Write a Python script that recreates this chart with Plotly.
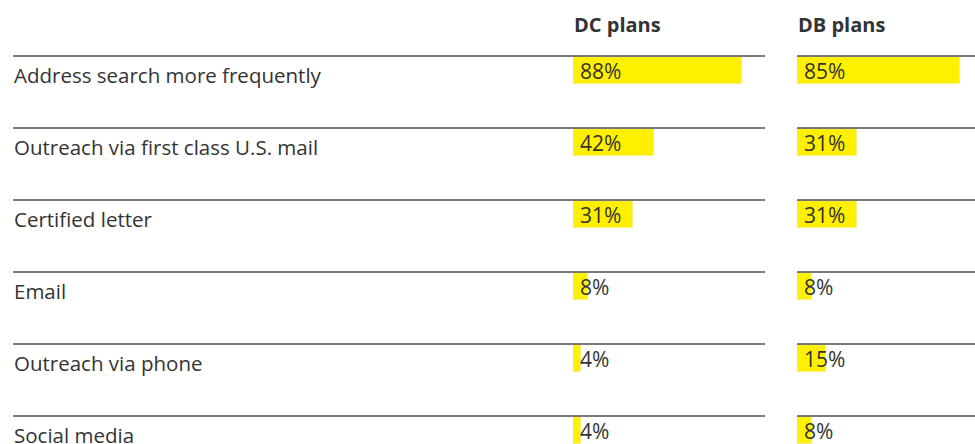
import plotly.graph_objects as go

categories = ["Address search more frequently", "Outreach via first class U.S. mail",
              "Certified letter", "Email", "Outreach via phone", "Social media"]
dc_values = [88, 42, 31, 8, 4, 4]
db_values = [85, 31, 31, 8, 15, 8]
series_names = ["DC plans", "DB plans"]

W, H = 975, 444
FONT = "Open Sans"
TXT = "#333333"
YEL = "#FFF000"
LINE = "#4d4d4d"

rows = list(range(len(categories)))
row_px = 72.0
first_center_px = 70.5
y_top = (0 - first_center_px) / row_px
y_bot = (H - first_center_px) / row_px
line_off = 14.5 / row_px
label_off = 4.5 / row_px

fig = go.Figure()
fig.add_trace(go.Bar(x=dc_values, y=rows, orientation="h", marker_color=YEL,
                     width=27 / row_px, xaxis="x", yaxis="y", hoverinfo="skip",
                     showlegend=False))
fig.add_trace(go.Bar(x=db_values, y=rows, orientation="h", marker_color=YEL,
                     width=27 / row_px, xaxis="x2", yaxis="y", hoverinfo="skip",
                     showlegend=False))

dc_left, dc_right = 573 / W, 765 / W
db_left = 797 / W
db_span_pct = (W - 797) / 1.92

annotations = []
for i, (c, a, b) in enumerate(zip(categories, dc_values, db_values)):
    annotations.append(dict(x=11.5 / W, xref="paper", y=i + label_off, yref="y",
                            text=c, showarrow=False, xanchor="left", yanchor="middle",
                            font=dict(family=FONT, size=20.5, color=TXT)))
    annotations.append(dict(x=0, xref="x", y=i, yref="y", text=f"{a}%", showarrow=False,
                            xanchor="left", yanchor="middle", xshift=5,
                            font=dict(family=FONT, size=21, color=TXT)))
    annotations.append(dict(x=0, xref="x2", y=i, yref="y", text=f"{b}%", showarrow=False,
                            xanchor="left", yanchor="middle", xshift=5,
                            font=dict(family=FONT, size=21, color=TXT)))

annotations.append(dict(x=dc_left - 1 / W, xref="paper", y=1 - 25 / H, yref="paper",
                        text=f"<b>{series_names[0]}</b>", showarrow=False,
                        xanchor="left", yanchor="middle",
                        font=dict(family=FONT, size=20, color=TXT)))
annotations.append(dict(x=db_left - 1 / W, xref="paper", y=1 - 25 / H, yref="paper",
                        text=f"<b>{series_names[1]}</b>", showarrow=False,
                        xanchor="left", yanchor="middle",
                        font=dict(family=FONT, size=20, color=TXT)))

shapes = []
for i in rows:
    shapes.append(dict(type="line", xref="paper", yref="y", x0=13 / W, x1=dc_right,
                       y0=i - line_off, y1=i - line_off, line=dict(color=LINE, width=1.3)))
    shapes.append(dict(type="line", xref="paper", yref="y", x0=db_left, x1=1,
                       y0=i - line_off, y1=i - line_off, line=dict(color=LINE, width=1.3)))

fig.update_layout(
    width=W, height=H, margin=dict(l=0, r=0, t=0, b=0),
    paper_bgcolor="white", plot_bgcolor="white",
    xaxis=dict(domain=[dc_left, dc_right], range=[0, 100], visible=False, fixedrange=True),
    xaxis2=dict(domain=[db_left, 1], range=[0, db_span_pct], visible=False, fixedrange=True),
    yaxis=dict(range=[y_bot, y_top], visible=False, fixedrange=True),
    annotations=annotations, shapes=shapes, bargap=0,
)
fig.write_html("out.html", config={"displayModeBar": False},
               post_script="document.body.style.margin='0';document.body.style.overflow='hidden';")
